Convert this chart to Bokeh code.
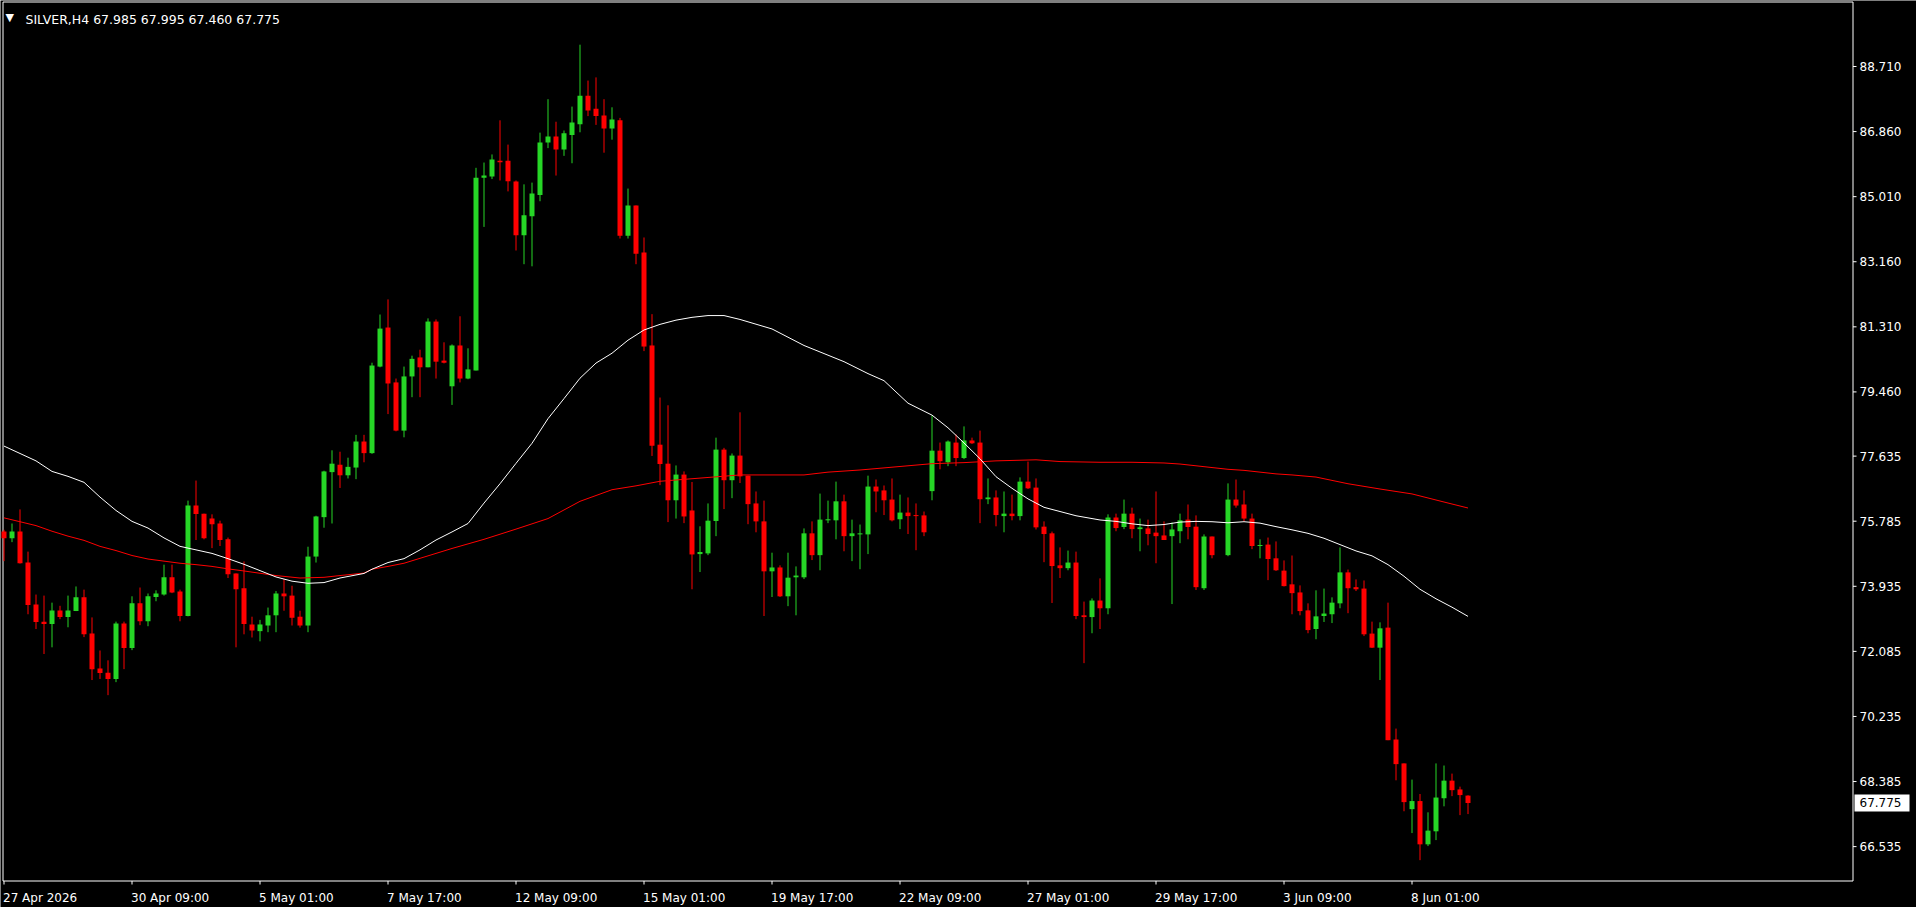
import math
from bokeh.plotting import figure
from bokeh.models import ColumnDataSource, Range1d, Grid
from bokeh.core.properties import value
from bokeh.embed import file_html
from bokeh.resources import INLINE

# ---------------- data ----------------
symbol = "SILVER,H4"

x_tick_bars = [0, 16, 32, 48, 64, 80, 96, 112, 128, 144, 160, 176]
x_tick_labels = ["27 Apr 2026", "30 Apr 09:00", "5 May 01:00", "7 May 17:00",
                 "12 May 09:00", "15 May 01:00", "19 May 17:00", "22 May 09:00",
                 "27 May 01:00", "29 May 17:00", "3 Jun 09:00", "8 Jun 01:00"]

price_ticks = [88.710, 86.860, 85.010, 83.160, 81.310, 79.460, 77.635,
               75.785, 73.935, 72.085, 70.235, 68.385, 66.535]

nan = float("nan")
opens = [75.49, 75.30, 75.49, 74.61, 73.42, 72.93, 72.86, 73.25, 73.06, 73.23,
         73.62, 72.59, 71.60, 71.48, 71.30, 72.88, 72.18, 73.45, 72.94, 73.63,
         73.70, 74.19, 73.79, 73.09, 76.23, 76.00, 75.86, 75.72, 75.27, 74.30,
         73.88, 72.85, 72.66, 72.82, 73.11, 73.73, 73.67, 73.07, 72.82, 74.78,
         75.90, 77.18, 77.39, 77.09, 77.31, 78.05, 77.72, 80.18, 81.29, 79.73,
         78.36, 79.90, 80.44, 80.16, 81.46, 80.35, 79.62, 80.78, 79.84, 80.07,
         85.55, 85.58, 86.03, 86.03, 85.44, 83.91, 84.45, 85.06, 86.55, 86.72,
         86.35, 86.76, 87.07, 87.88, 87.51, 87.32, 86.95, 87.18, 83.90, 84.76,
         83.42, 80.78, 77.96, 77.42, 76.38, 77.11, 76.09, 74.85, 74.87, 75.79,
         77.82, 76.95, 77.65, 77.08, 76.29, 75.78, 74.36, 74.47, 73.65, 74.19,
         74.19, 75.44, 74.82, 75.81, 75.81, 76.35, 75.36, 75.41, 75.41, 76.77,
         76.66, 76.40, 75.84, 76.03, 75.95, 75.95, 76.64, 77.79, 77.46, 78.02,
         77.58, 78.08, 78.02, 76.41, 76.46, 75.93, 76.00, 75.93, 76.91, 76.74,
         75.63, 75.44, 74.53, 74.45, 74.61, 73.11, 73.06, 73.53, 73.31, 75.89,
         75.62, 76.00, 75.56, 75.58, 75.46, 75.38, 75.36, 75.50, 75.83, 75.63,
         73.88, 75.35, nan, 74.82, 76.40, 76.26, 75.86, 75.08, 75.12, 74.73,
         74.38, 73.99, 73.76, 73.25, 72.72, 73.09, 73.14, 73.45, 74.33, 73.91,
         73.87, 72.59, 72.19, 72.76, 69.58, 68.90, 67.60, 67.83, 66.60, 66.97,
         67.91, 68.41, 68.16, 67.985]
highs = [75.54, 75.72, 76.12, 74.92, 73.70, 73.67, 73.47, 73.38, 73.67, 73.93,
         73.84, 73.05, 72.11, 71.83, 72.93, 72.93, 73.65, 73.90, 73.73, 73.82,
         74.55, 74.55, 73.84, 76.37, 76.94, 76.00, 75.98, 75.80, 75.32, 74.30,
         74.64, 73.07, 72.98, 73.33, 73.80, 74.14, 73.95, 73.24, 75.06, 75.94,
         77.22, 77.80, 77.76, 77.59, 78.24, 78.24, 80.29, 81.66, 82.09, 79.84,
         80.18, 80.49, 80.66, 81.55, 81.52, 80.87, 80.81, 81.61, 80.70, 85.83,
         85.98, 86.21, 87.18, 86.49, 85.47, 85.36, 85.41, 86.83, 87.78, 87.14,
         86.89, 87.57, 89.33, 88.31, 88.40, 87.78, 87.55, 87.25, 85.24, 84.76,
         83.85, 81.67, 79.30, 79.08, 77.37, 77.20, 76.90, 75.64, 76.29, 78.16,
         77.87, 77.71, 78.88, 77.08, 76.63, 76.37, 74.89, 74.53, 74.89, 74.50,
         75.58, 75.78, 76.57, 76.37, 76.91, 76.54, 75.83, 75.69, 77.08, 76.97,
         76.80, 77.00, 76.54, 76.46, 76.29, 76.06, 78.79, 78.02, 78.08, 78.25,
         78.48, 78.16, 78.36, 77.00, 76.66, 76.63, 76.54, 77.03, 77.48, 77.00,
         75.78, 75.49, 75.04, 74.95, 74.92, 73.50, 73.59, 74.16, 75.98, 76.00,
         76.40, 76.17, 75.86, 75.83, 76.63, 75.78, 75.75, 76.00, 76.26, 75.95,
         75.41, 75.35, nan, 76.86, 76.97, 76.66, 76.00, 75.27, 75.32, 75.21,
         74.67, 74.81, 73.96, 73.45, 73.82, 73.87, 73.62, 75.04, 74.41, 74.13,
         74.10, 72.93, 72.91, 73.47, 69.89, 68.90, 68.44, 68.03, 67.51, 68.90,
         68.84, 68.61, 68.24, 67.995]
lows = [74.65, 75.19, 74.58, 73.14, 72.72, 72.01, 72.20, 73.00, 72.77, 73.23,
        72.49, 71.27, 71.30, 70.84, 71.21, 71.58, 72.12, 72.83, 72.80, 73.51,
        73.67, 73.74, 72.94, 73.08, 75.25, 75.27, 75.02, 75.08, 74.17, 72.20,
        72.57, 72.48, 72.37, 72.63, 72.63, 73.24, 72.82, 72.76, 72.63, 74.61,
        75.60, 75.72, 76.73, 77.00, 76.98, 77.46, 77.70, 80.16, 78.83, 78.34,
        78.17, 79.31, 79.31, 80.16, 79.84, 80.27, 79.09, 79.73, 79.82, 80.07,
        84.15, 85.51, 85.47, 85.16, 83.48, 83.09, 83.03, 84.88, 86.39, 85.61,
        86.17, 85.96, 86.84, 87.30, 87.05, 86.26, 86.63, 83.82, 83.82, 83.09,
        80.62, 77.64, 76.81, 75.76, 75.86, 75.73, 73.85, 74.34, 74.82, 75.36,
        76.13, 76.44, 76.87, 75.70, 75.47, 73.09, 73.63, 73.63, 73.37, 73.11,
        74.14, 74.68, 74.39, 75.73, 75.27, 74.93, 74.65, 74.42, 74.85, 76.04,
        75.96, 75.78, 75.56, 75.42, 74.96, 75.36, 76.38, 77.26, 77.35, 77.35,
        77.55, 77.98, 75.73, 76.27, 75.64, 75.47, 75.81, 75.81, 76.70, 75.55,
        74.62, 73.46, 74.17, 74.39, 73.00, 71.75, 72.60, 72.72, 73.14, 75.50,
        75.56, 75.30, 74.93, 75.10, 74.59, 75.25, 73.43, 75.16, 75.27, 73.83,
        73.83, 74.73, nan, 74.79, 76.17, 75.78, 74.99, 74.73, 74.11, 74.37,
        73.93, 73.14, 73.11, 72.60, 72.43, 72.92, 72.89, 73.31, 73.17, 73.80,
        72.52, 72.18, 71.27, 69.56, 68.42, 67.54, 66.92, 66.15, 66.55, 66.72,
        67.68, 67.97, 67.43, 67.460]
closes = [75.30, 75.49, 74.59, 73.40, 72.92, 72.86, 73.25, 73.06, 73.25, 73.62,
          72.57, 71.58, 71.47, 71.30, 72.88, 72.18, 73.45, 72.94, 73.65, 73.73,
          74.19, 73.76, 73.09, 76.23, 75.99, 75.30, 75.70, 75.25, 74.28, 73.85,
          72.86, 72.68, 72.85, 73.11, 73.73, 73.65, 73.04, 72.82, 74.78, 75.92,
          77.20, 77.42, 77.09, 77.33, 78.05, 77.72, 80.21, 81.26, 79.70, 78.36,
          79.90, 80.40, 80.16, 81.46, 80.32, 80.29, 80.78, 79.84, 80.10, 85.55,
          85.61, 86.07, 85.99, 85.45, 83.91, 84.48, 85.10, 86.55, 86.72, 86.35,
          86.81, 87.12, 87.88, 87.46, 87.30, 86.95, 87.20, 83.90, 84.76, 83.39,
          80.75, 77.93, 77.41, 76.38, 77.11, 75.92, 74.84, 74.91, 75.80, 77.82,
          76.95, 77.65, 77.06, 76.27, 75.78, 74.36, 74.47, 73.65, 74.18, 74.24,
          75.44, 74.82, 75.83, 75.84, 76.35, 75.36, 75.44, 75.44, 76.77, 76.63,
          76.38, 75.81, 76.03, 75.93, 75.93, 75.47, 77.79, 77.49, 78.05, 77.58,
          78.08, 78.00, 76.41, 76.46, 75.96, 76.00, 75.93, 76.91, 76.72, 75.61,
          75.42, 74.51, 74.45, 74.61, 73.09, 73.06, 73.53, 73.31, 75.89, 75.59,
          76.00, 75.56, 75.61, 75.42, 75.36, 75.25, 75.55, 75.81, 75.62, 73.91,
          75.35, 74.82, nan, 76.40, 76.23, 75.86, 75.08, 75.10, 74.71, 74.39,
          73.94, 73.74, 73.23, 72.69, 73.08, 73.16, 73.47, 74.33, 73.88, 73.85,
          72.57, 72.19, 72.74, 69.56, 68.88, 67.80, 67.83, 66.60, 66.99, 67.93,
          68.41, 68.14, 68.00, 67.775]

# white moving average (read at sampled bars)
ma_white_bar = [0, 4, 6, 8, 10, 12, 14, 16, 18, 20, 22, 24, 26, 28, 30, 32, 34,
                36, 38, 40, 42, 45, 46, 48, 50, 52, 54, 56, 58, 60, 62, 64, 66,
                68, 70, 72, 74, 76, 78, 80, 82, 84, 86, 88, 90, 92, 96, 100, 105,
                108, 110, 113, 116, 118, 120, 122, 124, 126, 128, 130, 132, 134,
                137, 139, 141, 143, 145, 147, 149, 151, 153, 155, 157, 159, 161,
                163, 165, 167, 169, 171, 173, 175, 177, 179, 181, 183]
ma_white = [77.92, 77.50, 77.20, 77.06, 76.89, 76.47, 76.09, 75.78, 75.59, 75.31,
            75.07, 74.97, 74.87, 74.72, 74.56, 74.38, 74.20, 74.08, 74.02, 74.04,
            74.17, 74.30, 74.42, 74.61, 74.72, 74.97, 75.25, 75.48, 75.72, 76.30,
            76.85, 77.43, 78.00, 78.70, 79.27, 79.85, 80.28, 80.56, 80.93, 81.22,
            81.38, 81.50, 81.58, 81.63, 81.63, 81.52, 81.25, 80.78, 80.32, 79.98,
            79.78, 79.14, 78.80, 78.44, 78.01, 77.56, 77.05, 76.72, 76.42, 76.18,
            76.06, 75.94, 75.82, 75.78, 75.71, 75.66, 75.69, 75.76, 75.78, 75.77,
            75.74, 75.77, 75.73, 75.63, 75.54, 75.44, 75.30, 75.12, 74.94, 74.80,
            74.55, 74.22, 73.85, 73.58, 73.34, 73.08]

# red moving average (read at sampled bars)
ma_red_bar = [0, 4, 6, 8, 10, 12, 14, 16, 18, 20, 22, 24, 26, 28, 30, 34, 37, 40,
              42, 45, 46, 48, 50, 52, 54, 56, 58, 60, 64, 68, 72, 76, 79, 82, 87,
              92, 100, 103, 107, 112, 116, 120, 124, 129, 132, 137, 141, 145, 147,
              149, 151, 153, 155, 157, 159, 161, 164, 168, 172, 176, 180, 183]
ma_red = [75.88, 75.66, 75.50, 75.36, 75.24, 75.07, 74.95, 74.81, 74.71, 74.65,
          74.59, 74.55, 74.50, 74.43, 74.37, 74.24, 74.17, 74.19, 74.24, 74.31,
          74.42, 74.50, 74.59, 74.73, 74.87, 75.01, 75.14, 75.27, 75.56, 75.86,
          76.35, 76.68, 76.79, 76.92, 77.01, 77.10, 77.10, 77.18, 77.24, 77.34,
          77.42, 77.45, 77.50, 77.53, 77.48, 77.46, 77.46, 77.44, 77.41, 77.36,
          77.31, 77.26, 77.23, 77.18, 77.13, 77.10, 77.04, 76.85, 76.70, 76.56,
          76.33, 76.16]

# ---------------- styling / layout ----------------
BULL = "#26D626"
BEAR = "#FF0000"
FONT = value("DejaVu Sans")

W, H = 1916, 907
BAR_PX = 8.0            # pixel distance between bars
FIRST_PX = 3.5          # pixel centre of first bar
PX_PER_UNIT = 35.18     # vertical pixels per price unit
REF_PRICE, REF_PY = 88.710, 66.0
# chart box (pixels) inside the canvas
BOX_L, BOX_R, BOX_T, BOX_B = 2.5, 1852.5, 1.5, 880.5


def dx(px):
    return (px - FIRST_PX) / BAR_PX


def dy(py):
    return REF_PRICE - (py - REF_PY) / PX_PER_UNIT


p = figure(width=W, height=H, output_backend="svg", toolbar_location=None,
           x_range=Range1d(dx(0), dx(W)), y_range=Range1d(dy(H), dy(0)),
           x_axis_location=None, y_axis_location=None,
           min_border=0, outline_line_color=None,
           background_fill_color="black", border_fill_color="black")
for g in p.select(type=Grid):
    g.visible = False

# chart border
p.quad(left=[dx(BOX_L)], right=[dx(BOX_R)], top=[dy(BOX_T)], bottom=[dy(BOX_B)],
       fill_color=None, line_color="white", line_width=1)

# candles
n = len(opens)
idx = list(range(n))
min_body = 1.0 / PX_PER_UNIT
bot, top, col = [], [], []
for o, c in zip(opens, closes):
    if math.isnan(o):
        bot.append(nan); top.append(nan); col.append(BULL)
        continue
    lo_b, hi_b = min(o, c), max(o, c)
    if hi_b - lo_b < min_body:
        hi_b = lo_b + min_body
    bot.append(lo_b); top.append(hi_b)
    col.append(BULL if c >= o else BEAR)

src = ColumnDataSource(dict(x=idx, high=highs, low=lows, bot=bot, top=top, col=col))
p.segment(x0="x", y0="low", x1="x", y1="high", source=src,
          line_color="col", line_width=1)
p.vbar(x="x", bottom="bot", top="top", width=5.0 / BAR_PX, source=src,
       fill_color="col", line_color=None)

# moving averages
p.line(ma_red_bar, ma_red, line_color="#FF0000", line_width=1)
p.line(ma_white_bar, ma_white, line_color="#FFFFFF", line_width=1)

# right price scale: tick marks + labels
n_pt = len(price_ticks)
p.segment(x0=[dx(BOX_R)] * n_pt, x1=[dx(BOX_R + 3.5)] * n_pt,
          y0=price_ticks, y1=price_ticks, line_color="white", line_width=1)
p.text(x=[dx(1859)] * n_pt, y=price_ticks,
       text=[f"{t:.3f}" for t in price_ticks],
       text_align="left", text_baseline="middle", text_color="white",
       text_font=FONT, text_font_size="12px")

# bottom time scale: tick marks + labels
n_xt = len(x_tick_bars)
p.segment(x0=x_tick_bars, x1=x_tick_bars, y0=[dy(BOX_B)] * n_xt,
          y1=[dy(BOX_B + 3.5)] * n_xt, line_color="white", line_width=1)
p.text(x=x_tick_bars, y=[dy(897)] * n_xt, text=x_tick_labels,
       text_align="left", text_baseline="alphabetic", x_offset=-1,
       text_color="white", text_font=FONT, text_font_size="12px")

# title (symbol + last bar OHLC)
title_txt = f"{symbol}  {opens[-1]:.3f} {highs[-1]:.3f} {lows[-1]:.3f} {closes[-1]:.3f}"
p.text(x=[dx(25)], y=[dy(19)], text=[title_txt], text_align="left",
       text_baseline="alphabetic", text_color="white", text_font=FONT,
       text_font_size="12.5px")
p.text(x=[dx(5)], y=[dy(17)], text=["\u25BC"], text_align="left",
       text_baseline="alphabetic", text_color="white", text_font=FONT,
       text_font_size="11px")

# current price tag on the price scale
last = closes[-1]
p.quad(left=[dx(1854)], right=[dx(1909)], top=[last + 8.5 / PX_PER_UNIT],
       bottom=[last - 8.5 / PX_PER_UNIT], fill_color="white", line_color=None)
p.text(x=[dx(1859)], y=[last], text=[f"{last:.3f}"], text_align="left",
       text_baseline="middle", text_color="black", text_font=FONT,
       text_font_size="12px")

open("out.html", "w").write(file_html(p, INLINE))
